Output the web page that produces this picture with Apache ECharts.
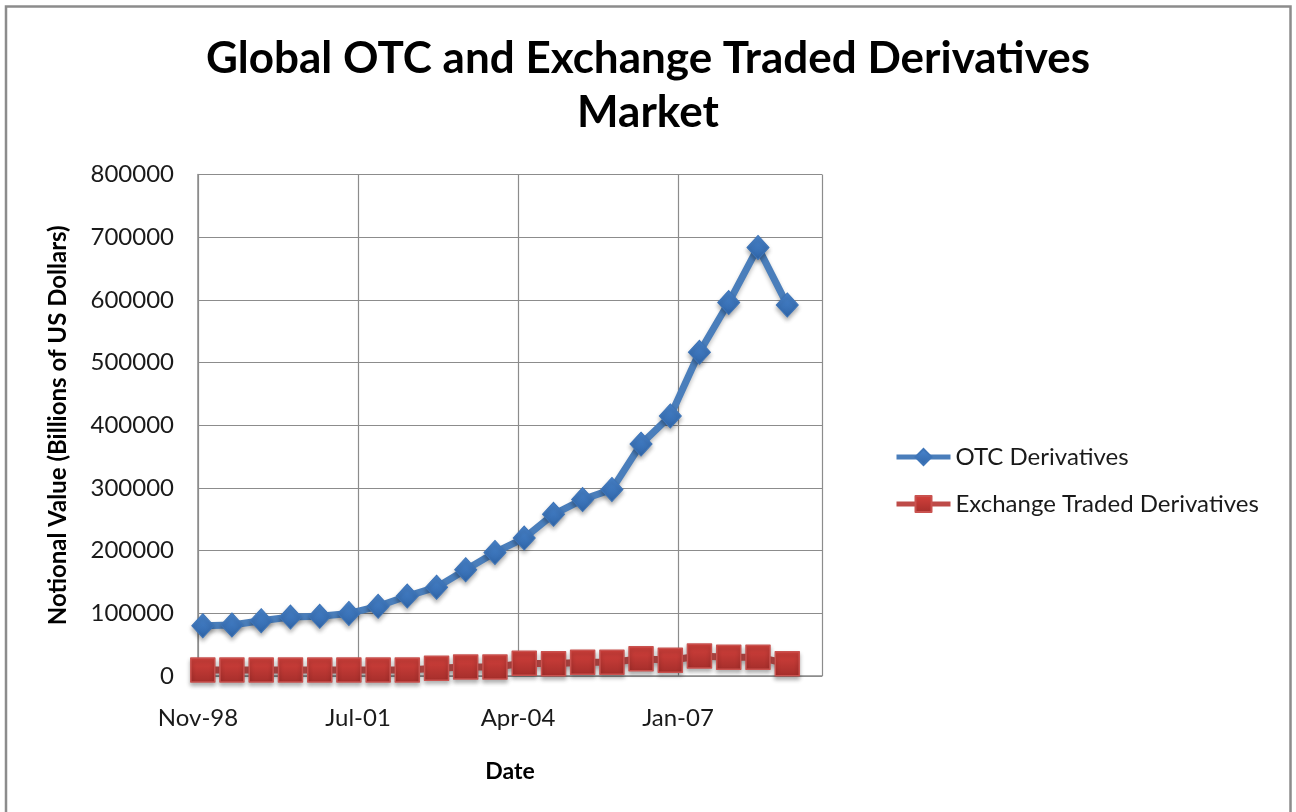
<!DOCTYPE html>
<html>
<head>
<meta charset="utf-8">
<title>Global OTC and Exchange Traded Derivatives Market</title>
<script src="https://cdn.jsdelivr.net/npm/echarts@6/dist/echarts.min.js"></script>
<style>
html, body { margin: 0; padding: 0; background: #fff; }
#chart { width: 1296px; height: 812px; }
</style>
</head>
<body>
<div id="chart"></div>
<script>
// half-yearly reporting dates
var dates = ['1998-12', '1999-06', '1999-12', '2000-06', '2000-12', '2001-06', '2001-12',
	'2002-06', '2002-12', '2003-06', '2003-12', '2004-06', '2004-12', '2005-06', '2005-12',
	'2006-06', '2006-12', '2007-06', '2007-12', '2008-06', '2008-12'];
var otcValues = [80309, 81458, 88202, 94008, 95199, 99755, 111178, 127509, 141665, 169658,
	197167, 220058, 257894, 281493, 297666, 369906, 414845, 516407, 595738, 683725, 591963];
var exchangeValues = [9500, 9500, 9500, 9500, 9500, 9500, 9500, 9500, 12300, 14400,
	14400, 20300, 19600, 21800, 22000, 27400, 25000, 31900, 30000, 30000, 19500];
var yTicks = [0, 100000, 200000, 300000, 400000, 500000, 600000, 700000, 800000];

var axisStart = Date.UTC(1998, 10, 1);   // Nov-98
var dayMs = 86400000;
var months = ['Jan','Feb','Mar','Apr','May','Jun','Jul','Aug','Sep','Oct','Nov','Dec'];
var FONT = 'Lato, "Open Sans", sans-serif';

function toDays(s) {
	var p = s.split('-');
	return Math.round((Date.UTC(+p[0], +p[1] - 1, 1) - axisStart) / dayMs);
}
function dayLabel(v) {
	var d = new Date(axisStart + v * dayMs);
	return months[d.getUTCMonth()] + '-' + String(d.getUTCFullYear()).slice(2);
}

var otcData = dates.map(function(d, i) { return [toDays(d), otcValues[i]]; });
var exData = dates.map(function(d, i) { return [toDays(d), exchangeValues[i]]; });

var chart = echarts.init(document.getElementById('chart'), null, { renderer: 'canvas' });

var option = {
	animation: false,
	backgroundColor: '#fff',
	textStyle: { fontFamily: FONT },
	graphic: [{
		type: 'rect',
		shape: { x: 6, y: 6.5, width: 1284.5, height: 900 },
		style: { fill: 'none', stroke: '#8c8c8c', lineWidth: 2.5 },
		silent: true
	}],
	title: {
		text: 'Global OTC and Exchange Traded Derivatives\nMarket',
		left: 'center',
		top: 27,
		textStyle: {
			fontFamily: FONT,
			fontSize: 44,
			fontWeight: 'bold',
			color: '#000',
			lineHeight: 54
		}
	},
	legend: {
		orient: 'vertical',
		left: 889,
		top: 440,
		itemWidth: 54,
		itemHeight: 20,
		itemGap: 23,
		lineStyle: { width: 5 },
		textStyle: { fontFamily: FONT, fontSize: 24, color: '#1a1a1a' },
		data: ['OTC Derivatives', 'Exchange Traded Derivatives']
	},
	grid: {
		left: 198,
		right: 474,
		top: 174.5,
		bottom: 136,
		containLabel: false
	},
	xAxis: {
		type: 'value',
		min: 0,
		max: 3900,
		interval: 1000,
		name: 'Date',
		nameLocation: 'middle',
		nameGap: 84,
		nameTextStyle: { fontFamily: FONT, fontSize: 23, fontWeight: 'bold', color: '#000' },
		axisLine: { lineStyle: { color: '#8c8c8c', width: 1.5 } },
		axisTick: { show: false },
		axisLabel: {
			fontFamily: FONT, fontSize: 24, color: '#1a1a1a', margin: 30,
			showMaxLabel: false,
			formatter: dayLabel
		},
		splitLine: { show: true, lineStyle: { color: '#8c8c8c', width: 1.2 } }
	},
	yAxis: {
		type: 'value',
		min: yTicks[0],
		max: yTicks[yTicks.length - 1],
		interval: yTicks[1] - yTicks[0],
		name: 'Notional Value (Billions of US Dollars)',
		nameLocation: 'middle',
		nameGap: 128,
		nameTextStyle: { fontFamily: FONT, fontSize: 24, fontWeight: 'bold', color: '#000' },
		axisLine: { show: true, lineStyle: { color: '#8c8c8c', width: 1.5 } },
		axisTick: { show: false },
		axisLabel: {
			fontFamily: FONT, fontSize: 24, color: '#1a1a1a', margin: 24,
			formatter: function(v) { return String(v); }
		},
		splitLine: { show: true, lineStyle: { color: '#8c8c8c', width: 1.2 } }
	},
	series: [
		{
			name: 'OTC Derivatives',
			type: 'line',
			data: otcData,
			symbol: 'diamond',
			symbolSize: [22, 24],
			lineStyle: {
				color: '#4a7ebb', width: 7,
				shadowColor: 'rgba(0,0,0,0.25)', shadowBlur: 4, shadowOffsetY: 3
			},
			itemStyle: {
				color: new echarts.graphic.LinearGradient(0, 0, 0, 1, [
					{ offset: 0, color: '#4a86cf' },
					{ offset: 1, color: '#2f65a8' }
				]),
				borderColor: '#3d74b8',
				borderWidth: 1,
				shadowColor: 'rgba(0,0,0,0.3)', shadowBlur: 4, shadowOffsetY: 3
			},
			z: 3
		},
		{
			name: 'Exchange Traded Derivatives',
			type: 'line',
			data: exData,
			symbol: 'rect',
			symbolSize: 24,
			lineStyle: {
				color: '#be4b48', width: 7,
				shadowColor: 'rgba(0,0,0,0.25)', shadowBlur: 4, shadowOffsetY: 3
			},
			itemStyle: {
				color: new echarts.graphic.LinearGradient(0, 0, 0, 1, [
					{ offset: 0, color: '#d4413c' },
					{ offset: 1, color: '#a52e2b' }
				]),
				borderColor: '#c9524f',
				borderWidth: 1.5,
				borderJoin: 'round',
				shadowColor: 'rgba(0,0,0,0.3)', shadowBlur: 4, shadowOffsetY: 3
			},
			z: 2
		}
	]
};

chart.setOption(option);

window.onresize = function() {
	chart.resize();
};
</script>
</body>
</html>
